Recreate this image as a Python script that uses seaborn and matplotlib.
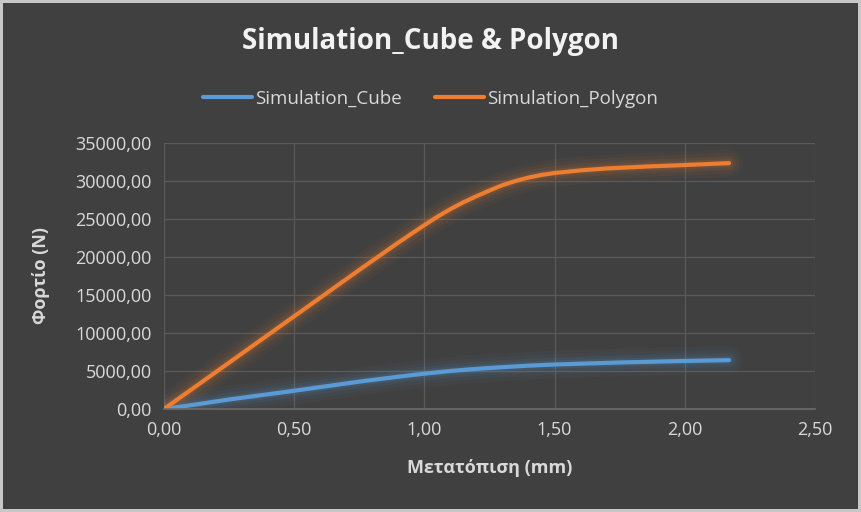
import numpy as np
import pandas as pd
import matplotlib
matplotlib.use("Agg")
import matplotlib.pyplot as plt
import seaborn as sns
from matplotlib.ticker import FuncFormatter, MultipleLocator

# values
disp_cube = [0.00, 0.10, 0.25, 0.50, 0.75, 0.90, 1.00, 1.10, 1.20, 1.30, 1.40,
             1.50, 1.75, 2.00, 2.17]
load_cube = [0, 480, 1250, 2400, 3600, 4250, 4650, 5000, 5280, 5500, 5700,
             5850, 6120, 6320, 6430]
disp_poly = [0.00, 0.25, 0.50, 0.75, 0.90, 1.00, 1.05, 1.10, 1.15, 1.20, 1.25,
             1.30, 1.35, 1.40, 1.45, 1.50, 1.60, 1.70, 1.85, 2.00, 2.17]
load_poly = [0, 6100, 12200, 18300, 21900, 24200, 25300, 26300, 27200, 28000, 28750,
             29450, 30000, 30450, 30800, 31050, 31400, 31650, 31900, 32100, 32350]

cube = pd.DataFrame({"x": disp_cube, "y": load_cube})
poly = pd.DataFrame({"x": disp_poly, "y": load_poly})

bg = "#404040"
grid = "#5a5a5a"
txt = "#d9d9d9"
blue = "#5b9bd5"
orange = "#ed7d31"

sns.set_theme(style="dark")
plt.rcParams["font.family"] = ["Open Sans", "DejaVu Sans"]

fig = plt.figure(figsize=(8.61, 5.12), dpi=100, facecolor=bg)
fig.patch.set_edgecolor("#c8c8c8")
fig.patch.set_linewidth(3)
ax = fig.add_axes([0.1905, 0.2012, 0.756, 0.5195])
ax.set_facecolor(bg)

# soft glow under each line
for df, c in [(cube, blue), (poly, orange)]:
    for lw, a in [(20, 0.04), (15, 0.05), (10, 0.08), (6, 0.12)]:
        sns.lineplot(data=df, x="x", y="y", ax=ax, color=c, lw=lw, alpha=a,
                     solid_capstyle="round", solid_joinstyle="round", legend=False)

sns.lineplot(data=cube, x="x", y="y", ax=ax, color=blue, lw=3,
             solid_capstyle="round", solid_joinstyle="round", label="Simulation_Cube")
sns.lineplot(data=poly, x="x", y="y", ax=ax, color=orange, lw=3,
             solid_capstyle="round", solid_joinstyle="round", label="Simulation_Polygon")

ax.set_xlim(0, 2.5)
ax.set_ylim(0, 35000)
ax.xaxis.set_major_locator(MultipleLocator(0.5))
ax.yaxis.set_major_locator(MultipleLocator(5000))
fmt = FuncFormatter(lambda v, p: f"{v:.2f}".replace(".", ","))
ax.xaxis.set_major_formatter(fmt)
ax.yaxis.set_major_formatter(fmt)
ax.grid(True, color=grid, lw=0.9)
for s in ["top", "right", "left"]:
    ax.spines[s].set_visible(False)
ax.spines["bottom"].set_color("#6a6a6a")
ax.tick_params(colors=txt, labelsize=13, length=0, pad=9)

ax.set_xlabel("Μετατόπιση (mm)", color=txt, fontsize=13, fontweight="bold", labelpad=14)
ax.set_ylabel("Φορτίο (N)", color=txt, fontsize=13, fontweight="bold", labelpad=18)

fig.text(0.5, 0.918, "Simulation_Cube & Polygon", ha="center", va="center",
         color="#f2f2f2", fontsize=20, fontweight="bold")
ax.legend(loc="center", bbox_to_anchor=(0.5, 0.807), bbox_transform=fig.transFigure,
          ncol=2, frameon=False, fontsize=13.5, labelcolor=txt, handlelength=2.6,
          handletextpad=0.15, columnspacing=1.8)

fig.savefig("out.png", dpi=100, facecolor=bg, edgecolor=fig.patch.get_edgecolor())
